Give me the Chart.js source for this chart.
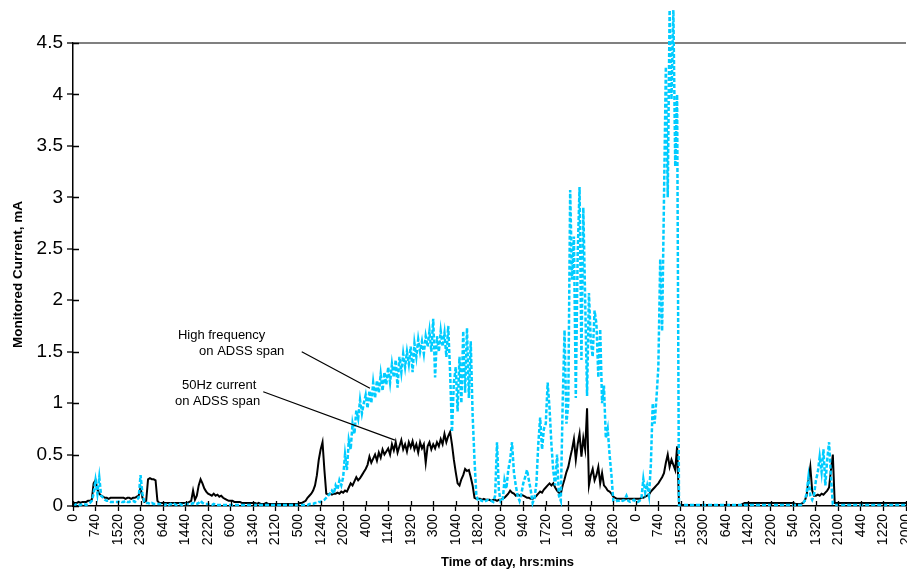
<!DOCTYPE html>
<html>
<head>
<meta charset="utf-8">
<script src="https://cdn.jsdelivr.net/npm/chart.js@4.4.1/dist/chart.umd.min.js"></script>
<style>
  html, body { margin: 0; padding: 0; background: #fff; }
</style>
</head>
<body>
<canvas id="chart" width="907" height="571"></canvas>
<script>
// --- Tick labels on the time axis (hrs:mins without colon) ---
const tickLabels = ['0', '740', '1520', '2300', '640', '1440', '2220', '600', '1340', '2120',
  '500', '1240', '2020', '400', '1140', '1920', '300', '1040', '1820', '200',
  '940', '1720', '100', '840', '1620', '0', '740', '1520', '2300', '640',
  '1420', '2200', '540', '1320', '2100', '440', '1220', '2000'];

// readings per labelled tick interval
const samplesPerTick = 12;

// --- 50Hz current on ADSS span (mA), one row per tick interval ---
const current50Hz = [
  0.03, 0.03, 0.03, 0.04, 0.03, 0.04, 0.04, 0.04, 0.05, 0.05, 0.06, 0.22,
  0.25, 0.16, 0.12, 0.10, 0.09, 0.08, 0.08, 0.07, 0.08, 0.08, 0.08, 0.08,
  0.08, 0.08, 0.08, 0.08, 0.07, 0.08, 0.08, 0.07, 0.08, 0.08, 0.09, 0.10,
  0.18, 0.08, 0.04, 0.05, 0.26, 0.27, 0.26, 0.26, 0.25, 0.05, 0.03, 0.03,
  0.03, 0.03, 0.03, 0.03, 0.03, 0.03, 0.03, 0.03, 0.03, 0.03, 0.03, 0.03,
  0.03, 0.03, 0.04, 0.05, 0.15, 0.06, 0.10, 0.20, 0.26, 0.22, 0.17, 0.14,
  0.12, 0.11, 0.10, 0.12, 0.10, 0.11, 0.09, 0.10, 0.08, 0.07, 0.06, 0.05,
  0.05, 0.05, 0.04, 0.04, 0.04, 0.04, 0.03, 0.03, 0.03, 0.03, 0.03, 0.03,
  0.03, 0.03, 0.02, 0.03, 0.02, 0.02, 0.02, 0.03, 0.02, 0.02, 0.02, 0.02,
  0.02, 0.02, 0.02, 0.02, 0.02, 0.02, 0.02, 0.02, 0.02, 0.02, 0.02, 0.02,
  0.02, 0.03, 0.03, 0.04, 0.05, 0.08, 0.10, 0.12, 0.15, 0.20, 0.30, 0.45,
  0.55, 0.62, 0.35, 0.12, 0.11, 0.12, 0.11, 0.12, 0.12, 0.13, 0.12, 0.14,
  0.13, 0.15, 0.14, 0.18, 0.22, 0.20, 0.24, 0.28, 0.25, 0.27, 0.30, 0.33,
  0.36, 0.40, 0.48, 0.42, 0.46, 0.50, 0.44, 0.52, 0.47, 0.55, 0.50, 0.53,
  0.56, 0.50, 0.60, 0.54, 0.62, 0.52, 0.58, 0.64, 0.55, 0.60, 0.53, 0.62,
  0.57, 0.63, 0.55, 0.60, 0.52, 0.62, 0.56, 0.60, 0.42, 0.58, 0.62, 0.55,
  0.60, 0.56, 0.62, 0.58, 0.65, 0.60, 0.70, 0.62, 0.68, 0.72, 0.60, 0.45,
  0.33, 0.22, 0.20, 0.26, 0.30, 0.36, 0.34, 0.35, 0.28, 0.20, 0.08, 0.07,
  0.07, 0.07, 0.06, 0.07, 0.06, 0.06, 0.06, 0.05, 0.06, 0.06, 0.05, 0.06,
  0.06, 0.07, 0.08, 0.10, 0.12, 0.15, 0.13, 0.12, 0.10, 0.11, 0.10, 0.11,
  0.10, 0.09, 0.08, 0.08, 0.07, 0.07, 0.08, 0.10, 0.12, 0.14, 0.13, 0.16,
  0.18, 0.20, 0.22, 0.20, 0.22, 0.18, 0.15, 0.13, 0.12, 0.20, 0.26, 0.33,
  0.38, 0.47, 0.55, 0.65, 0.45, 0.60, 0.70, 0.48, 0.66, 0.55, 0.95, 0.20,
  0.30, 0.36, 0.25, 0.30, 0.38, 0.22, 0.32, 0.20, 0.18, 0.15, 0.14, 0.12,
  0.09, 0.08, 0.07, 0.07, 0.07, 0.07, 0.07, 0.07, 0.07, 0.07, 0.07, 0.07,
  0.07, 0.07, 0.07, 0.08, 0.08, 0.09, 0.10, 0.11, 0.14, 0.16, 0.18, 0.20,
  0.22, 0.25, 0.28, 0.32, 0.42, 0.50, 0.38, 0.45, 0.40, 0.35, 0.58, 0.02,
  0.01, 0.01, 0.01, 0.01, 0.01, 0.01, 0.01, 0.01, 0.01, 0.01, 0.01, 0.01,
  0.01, 0.01, 0.01, 0.01, 0.01, 0.01, 0.01, 0.01, 0.01, 0.01, 0.01, 0.01,
  0.01, 0.01, 0.01, 0.01, 0.01, 0.01, 0.01, 0.01, 0.01, 0.02, 0.03, 0.03,
  0.03, 0.03, 0.03, 0.03, 0.03, 0.03, 0.03, 0.03, 0.03, 0.03, 0.03, 0.03,
  0.03, 0.03, 0.03, 0.03, 0.03, 0.03, 0.03, 0.03, 0.03, 0.03, 0.03, 0.03,
  0.03, 0.02, 0.02, 0.02, 0.02, 0.03, 0.05, 0.10, 0.25, 0.38, 0.15, 0.10,
  0.10, 0.11, 0.10, 0.12, 0.11, 0.13, 0.15, 0.18, 0.35, 0.50, 0.03, 0.03,
  0.03, 0.03, 0.03, 0.03, 0.03, 0.03, 0.03, 0.03, 0.03, 0.03, 0.03, 0.03,
  0.03, 0.03, 0.03, 0.03, 0.03, 0.03, 0.03, 0.03, 0.03, 0.03, 0.03, 0.03,
  0.03, 0.03, 0.03, 0.03, 0.03, 0.03, 0.03, 0.03, 0.03, 0.03, 0.03, 0.03,
  0.03
];

// --- High frequency current on ADSS span (mA) ---
const highFreq = [
  0.01, 0.01, 0.02, 0.01, 0.01, 0.02, 0.02, 0.01, 0.02, 0.03, 0.05, 0.12,
  0.25, 0.12, 0.28, 0.10, 0.08, 0.06, 0.05, 0.05, 0.04, 0.04, 0.04, 0.04,
  0.04, 0.05, 0.04, 0.04, 0.05, 0.04, 0.04, 0.05, 0.05, 0.04, 0.06, 0.08,
  0.30, 0.12, 0.04, 0.03, 0.03, 0.02, 0.03, 0.02, 0.02, 0.02, 0.02, 0.02,
  0.02, 0.01, 0.02, 0.01, 0.02, 0.01, 0.02, 0.01, 0.01, 0.02, 0.01, 0.02,
  0.02, 0.02, 0.02, 0.02, 0.03, 0.02, 0.02, 0.03, 0.05, 0.03, 0.02, 0.02,
  0.02, 0.01, 0.01, 0.02, 0.01, 0.01, 0.01, 0.01, 0.01, 0.01, 0.01, 0.01,
  0.01, 0.01, 0.01, 0.01, 0.01, 0.01, 0.01, 0.01, 0.01, 0.01, 0.01, 0.01,
  0.01, 0.01, 0.01, 0.01, 0.01, 0.01, 0.01, 0.01, 0.01, 0.01, 0.01, 0.01,
  0.01, 0.01, 0.01, 0.01, 0.01, 0.01, 0.01, 0.01, 0.01, 0.01, 0.01, 0.01,
  0.01, 0.01, 0.01, 0.01, 0.01, 0.01, 0.02, 0.02, 0.02, 0.03, 0.03, 0.04,
  0.04, 0.05, 0.06, 0.08, 0.10, 0.12, 0.15, 0.12, 0.20, 0.16, 0.25, 0.20,
  0.28, 0.50, 0.35, 0.64, 0.55, 0.80, 0.70, 0.93, 0.85, 1.03, 0.90, 1.00,
  1.08, 0.95, 1.12, 1.00, 1.20, 1.05, 1.22, 1.10, 1.28, 1.12, 1.30, 1.18,
  1.35, 1.20, 1.38, 1.25, 1.42, 1.15, 1.45, 1.30, 1.48, 1.35, 1.50, 1.38,
  1.55, 1.30, 1.58, 1.45, 1.62, 1.50, 1.60, 1.48, 1.65, 1.55, 1.70, 1.50,
  1.82, 1.25, 1.65, 1.50, 1.70, 1.55, 1.68, 1.45, 1.75, 1.30, 0.72, 1.20,
  1.35, 0.92, 1.45, 1.00, 1.70, 1.10, 1.73, 1.05, 1.60, 0.89, 0.45, 0.10,
  0.05, 0.06, 0.05, 0.04, 0.05, 0.06, 0.05, 0.05, 0.04, 0.10, 0.62, 0.15,
  0.04, 0.05, 0.25, 0.17, 0.35, 0.45, 0.62, 0.33, 0.20, 0.10, 0.05, 0.12,
  0.22, 0.28, 0.35, 0.25, 0.15, 0.03, 0.08, 0.22, 0.60, 0.86, 0.55, 0.75,
  0.80, 1.20, 0.95, 0.60, 0.34, 0.20, 0.50, 0.10, 0.05, 1.00, 1.71, 0.80,
  1.00, 3.07, 2.20, 2.62, 1.05, 2.45, 3.10, 1.42, 2.90, 2.00, 1.07, 2.07,
  1.60, 1.45, 1.90, 1.77, 1.25, 1.72, 1.00, 1.17, 0.66, 0.75, 0.50, 0.30,
  0.05, 0.04, 0.05, 0.05, 0.06, 0.05, 0.06, 0.10, 0.05, 0.04, 0.05, 0.06,
  0.04, 0.04, 0.05, 0.08, 0.26, 0.13, 0.20, 0.10, 0.40, 1.00, 0.80, 1.05,
  1.35, 2.40, 1.70, 2.98, 4.27, 3.00, 4.82, 3.95, 4.82, 3.30, 4.00, 0.01,
  0.01, 0.01, 0.01, 0.01, 0.01, 0.01, 0.01, 0.01, 0.01, 0.01, 0.01, 0.01,
  0.01, 0.01, 0.01, 0.01, 0.01, 0.01, 0.01, 0.01, 0.01, 0.01, 0.01, 0.01,
  0.01, 0.01, 0.01, 0.01, 0.01, 0.01, 0.01, 0.01, 0.01, 0.01, 0.01, 0.01,
  0.01, 0.01, 0.01, 0.01, 0.01, 0.01, 0.01, 0.01, 0.01, 0.01, 0.01, 0.01,
  0.01, 0.01, 0.01, 0.01, 0.01, 0.01, 0.01, 0.01, 0.01, 0.01, 0.01, 0.01,
  0.01, 0.01, 0.01, 0.01, 0.01, 0.02, 0.05, 0.12, 0.28, 0.10, 0.06, 0.11,
  0.25, 0.33, 0.48, 0.33, 0.55, 0.20, 0.45, 0.62, 0.28, 0.02, 0.01, 0.01,
  0.01, 0.01, 0.01, 0.01, 0.01, 0.01, 0.01, 0.01, 0.01, 0.01, 0.01, 0.01,
  0.01, 0.01, 0.01, 0.01, 0.01, 0.01, 0.01, 0.01, 0.01, 0.01, 0.01, 0.01,
  0.01, 0.01, 0.01, 0.01, 0.01, 0.01, 0.01, 0.01, 0.01, 0.01, 0.01, 0.01,
  0.01
];

// --- Callout texts and where they sit, in axis units (tick index, mA) ---
const noteTexts = ['High frequency', 'on ADSS span', '50Hz current', 'on ADSS span'];
const noteAnchors = [[4.66, 1.66], [5.6, 1.5], [4.84, 1.176], [4.53, 1.02]];
const leaderLines = [[[10.16, 1.5], [13.19, 1.144]], [[8.45, 1.11], [14.3, 0.64]]];

const FONT = "'Liberation Sans', Arial, sans-serif";

const toPoints = arr => arr.map((v, i) => ({ x: i / samplesPerTick, y: v }));

// draws inner half of tick marks, callouts and x title
const overlayPlugin = {
  id: 'overlay',
  afterDraw(chart) {
    const { ctx, scales: { x, y } } = chart;
    ctx.save();
    ctx.strokeStyle = '#000';
    ctx.lineWidth = 1.3;
    ctx.beginPath();
    x.ticks.forEach(t => {
      const px = Math.round(x.getPixelForValue(t.value)) + 0.5;
      ctx.moveTo(px, y.bottom);
      ctx.lineTo(px, y.bottom - 5);
    });
    y.ticks.forEach(t => {
      const py = Math.round(y.getPixelForValue(t.value)) + 0.5;
      ctx.moveTo(x.left, py);
      ctx.lineTo(x.left + 6, py);
    });
    ctx.stroke();

    ctx.lineWidth = 1.2;
    ctx.beginPath();
    leaderLines.forEach(([a, b]) => {
      ctx.moveTo(x.getPixelForValue(a[0]), y.getPixelForValue(a[1]));
      ctx.lineTo(x.getPixelForValue(b[0]), y.getPixelForValue(b[1]));
    });
    ctx.stroke();

    ctx.fillStyle = '#000';
    ctx.textBaseline = 'middle';
    ctx.textAlign = 'left';
    ctx.font = '13px ' + FONT;
    noteTexts.forEach((txt, i) => {
      const [vx, vy] = noteAnchors[i];
      ctx.fillText(txt, x.getPixelForValue(vx), y.getPixelForValue(vy));
    });

    ctx.font = 'bold 13px ' + FONT;
    ctx.textAlign = 'center';
    ctx.fillText('Time of day, hrs:mins', x.getPixelForValue(19.3), 562);
    ctx.restore();
  }
};

new Chart(document.getElementById('chart'), {
  type: 'line',
  data: {
    datasets: [
      {
        label: 'High frequency on ADSS span',
        data: toPoints(highFreq),
        borderColor: '#00CCFF',
        borderWidth: 2.5,
        borderDash: [4, 2],
        pointRadius: 0,
        tension: 0,
        clip: false
      },
      {
        label: '50Hz current on ADSS span',
        data: toPoints(current50Hz),
        borderColor: '#000',
        borderWidth: 2,
        pointRadius: 0,
        tension: 0,
        clip: false
      }
    ]
  },
  options: {
    responsive: false,
    animation: false,
    devicePixelRatio: 1,
    layout: { padding: { top: 43, right: 1, left: 0, bottom: 0 } },
    plugins: { legend: { display: false }, tooltip: { enabled: false } },
    scales: {
      x: {
        type: 'linear',
        min: 0,
        max: tickLabels.length - 1,
        ticks: {
          stepSize: 1,
          autoSkip: false,
          minRotation: 90,
          maxRotation: 90,
          padding: 3,
          color: '#000',
          font: { family: FONT, size: 14 },
          callback: v => tickLabels[v] ?? ''
        },
        grid: { drawOnChartArea: false, tickColor: '#000', tickLength: 5, tickWidth: 1.3 },
        border: { color: '#000', width: 1.5 },
        afterFit: s => { s.height = 65; s.paddingLeft = 0; s.paddingRight = 0; }
      },
      y: {
        min: 0,
        max: 4.5,
        ticks: {
          stepSize: 0.5,
          padding: 4,
          color: '#000',
          font: { family: FONT, size: 19 },
          callback: v => String(Math.round(v * 10) / 10)
        },
        grid: {
          color: c => (c.tick && c.tick.value === 4.5 ? '#808080' : 'rgba(0,0,0,0)'),
          lineWidth: 2,
          tickColor: '#000',
          tickLength: 6,
          tickWidth: 1.3
        },
        border: { color: '#000', width: 1.5 },
        title: {
          display: true,
          text: 'Monitored Current, mA',
          color: '#000',
          font: { family: FONT, size: 13.5, weight: 'bold' },
          padding: { top: 10, bottom: 0 }
        },
        afterFit: s => { s.width = 73; }
      }
    }
  },
  plugins: [overlayPlugin]
});
</script>
</body>
</html>
